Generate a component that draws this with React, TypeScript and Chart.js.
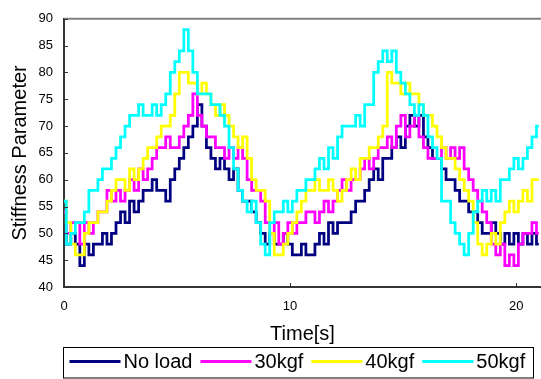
import React, { useEffect, useRef } from "react";
import { Chart, registerables } from "chart.js";

Chart.register(...registerables);

// ---- data ----
const SAMPLE_STEP = 0.2; // seconds between samples
const seriesNames = ["No load", "30kgf", "40kgf", "50kgf"];
const seriesColors = ["#000080", "#FF00FF", "#FFFF00", "#00FFFF"];
const xTickValues = [0, 10, 20];
const yTickValues = [40, 45, 50, 55, 60, 65, 70, 75, 80, 85, 90];

const noLoad = [
  50, 48, 50, 48, 44, 48, 46, 48, 48, 50,
  48, 50, 52, 54, 52, 56, 54, 56, 58, 58,
  60, 58, 58, 56, 60, 62, 64, 66, 68, 70,
  74, 70, 66, 64, 62, 64, 62, 60, 62, 58,
  56, 56, 54, 52, 50, 48, 50, 48, 48, 50,
  48, 46, 46, 48, 46, 46, 48, 50, 48, 52,
  50, 52, 52, 52, 54, 56, 56, 58, 60, 62,
  60, 64, 64, 66, 68, 66, 70, 72, 70, 72,
  68, 66, 64, 64, 62, 60, 60, 58, 56, 56,
  54, 54, 52, 50, 50, 52, 50, 48, 50, 48,
  50, 48, 50, 48, 50, 48,
];

const load30 = [
  54, 50, 52, 52, 48, 52, 50, 52, 54, 54,
  58, 56, 58, 56, 58, 60, 58, 62, 60, 62,
  64, 66, 66, 68, 66, 66, 68, 70, 72, 76,
  72, 70, 68, 68, 66, 66, 64, 66, 64, 66,
  64, 60, 58, 58, 56, 52, 50, 52, 48, 50,
  52, 50, 52, 52, 54, 54, 52, 54, 56, 54,
  56, 58, 60, 58, 60, 60, 62, 64, 62, 64,
  66, 66, 68, 66, 70, 72, 68, 70, 72, 68,
  66, 64, 64, 64, 66, 64, 66, 64, 66, 62,
  60, 58, 56, 54, 52, 48, 46, 48, 44, 46,
  44, 48, 50, 50, 52, 50,
];

const load40 = [
  56, 52, 48, 46, 46, 50, 52, 52, 54, 54,
  56, 58, 60, 60, 58, 62, 60, 62, 64, 66,
  66, 68, 70, 70, 72, 76, 80, 80, 78, 78,
  76, 78, 76, 74, 72, 74, 72, 70, 68, 66,
  68, 64, 60, 58, 58, 56, 50, 46, 46, 48,
  50, 52, 54, 56, 58, 58, 60, 58, 58, 60,
  58, 56, 58, 60, 62, 60, 64, 64, 66, 66,
  68, 70, 80, 78, 78, 76, 78, 76, 76, 74,
  72, 72, 70, 68, 66, 64, 64, 62, 60, 58,
  56, 52, 48, 46, 48, 50, 48, 52, 54, 56,
  54, 56, 58, 56, 60, 60,
];

const load50 = [
  56, 48, 50, 52, 52, 54, 58, 58, 60, 62,
  62, 64, 66, 68, 70, 72, 72, 74, 72, 72,
  74, 72, 74, 76, 80, 82, 84, 88, 84, 80,
  76, 76, 76, 74, 74, 72, 70, 66, 62, 58,
  56, 54, 56, 52, 48, 46, 52, 54, 54, 56,
  54, 56, 58, 58, 60, 60, 62, 64, 62, 66,
  64, 68, 70, 70, 70, 72, 70, 74, 74, 80,
  82, 84, 82, 84, 80, 78, 76, 74, 72, 74,
  72, 68, 66, 64, 56, 56, 52, 50, 48, 46,
  50, 54, 56, 58, 56, 58, 56, 60, 60, 62,
  64, 62, 64, 66, 68, 70,
];

const seriesValues = [noLoad, load30, load40, load50];

const FONT = "Arial, 'Liberation Sans', sans-serif";

const toPoints = (vals: number[]) =>
  vals.map((v, i) => ({ x: Math.round(i * SAMPLE_STEP * 10) / 10, y: v }));

const decorPlugin = {
  id: "decor",
  beforeDatasetsDraw(chart: any) {
    const { ctx, chartArea: a } = chart;
    ctx.save();
    ctx.strokeStyle = "#808080";
    ctx.lineWidth = 2;
    ctx.beginPath();
    ctx.moveTo(a.left, a.top);
    ctx.lineTo(a.right, a.top);
    ctx.stroke();
    ctx.restore();
  },
  afterDraw(chart: any) {
    const { ctx, chartArea: a, scales } = chart;
    ctx.save();
    // inner tick marks
    ctx.strokeStyle = "#333333";
    ctx.lineWidth = 1;
    yTickValues.forEach((v) => {
      const y = Math.round(scales.y.getPixelForValue(v)) + 0.5;
      ctx.beginPath();
      ctx.moveTo(a.left, y);
      ctx.lineTo(a.left + 4, y);
      ctx.stroke();
    });
    xTickValues.forEach((v) => {
      const x = Math.round(scales.x.getPixelForValue(v)) + 0.5;
      ctx.beginPath();
      ctx.moveTo(x, a.bottom);
      ctx.lineTo(x, a.bottom - 4);
      ctx.stroke();
    });

    // legend box
    const boxLeft = a.left - 0.5;
    const boxTop = scales.x.bottom + 1.5;
    const boxW = 470;
    const boxH = chart.height - boxTop - 1;
    ctx.strokeStyle = "#000000";
    ctx.lineWidth = 1;
    ctx.strokeRect(boxLeft, boxTop, boxW, boxH);

    const cy = boxTop + 14;
    ctx.font = `20px ${FONT}`;
    ctx.textBaseline = "middle";
    ctx.textAlign = "left";
    let x = boxLeft + 6;
    chart.data.datasets.forEach((ds: any) => {
      ctx.strokeStyle = ds.borderColor;
      ctx.lineWidth = 3;
      ctx.beginPath();
      ctx.moveTo(x, cy);
      ctx.lineTo(x + 51, cy);
      ctx.stroke();
      x += 54;
      ctx.fillStyle = "#000000";
      ctx.fillText(ds.label, x, cy + 1);
      x += ctx.measureText(ds.label).width + 8;
    });
    ctx.restore();
  },
};

export default function App() {
  const canvasRef = useRef<HTMLCanvasElement | null>(null);

  useEffect(() => {
    const canvas = canvasRef.current;
    if (!canvas) return;
    const chart = new Chart(canvas, {
      type: "line",
      data: {
        datasets: seriesValues.map((vals, i) => ({
          label: seriesNames[i],
          data: toPoints(vals),
          borderColor: seriesColors[i],
          backgroundColor: seriesColors[i],
          borderWidth: 2.75,
          pointRadius: 0,
          stepped: "middle" as const,
          fill: false,
          order: seriesValues.length - i,
        })),
      },
      options: {
        animation: false,
        responsive: false,
        maintainAspectRatio: false,
        parsing: false as any,
        layout: { padding: { top: 14, right: 0, bottom: 33, left: 0 } },
        plugins: {
          legend: { display: false },
          tooltip: { enabled: false },
        },
        scales: {
          x: {
            type: "linear",
            min: 0,
            max: 21.1,
            afterBuildTicks: (axis: any) => {
              axis.ticks = xTickValues.map((v) => ({ value: v }));
            },
            afterFit: (axis: any) => {
              axis.height = 59;
            },
            grid: { display: false, drawTicks: false },
            border: { display: true, color: "#333333", width: 2 },
            ticks: {
              autoSkip: false,
              padding: 12,
              maxRotation: 0,
              minRotation: 0,
              color: "#000000",
              font: { family: FONT, size: 13 },
              callback: (v: any) => String(v),
            },
            title: {
              display: true,
              text: "Time[s]",
              color: "#000000",
              font: { family: FONT, size: 20 },
              padding: { top: 7, bottom: 0 },
            },
          },
          y: {
            type: "linear",
            min: 40,
            max: 90,
            afterBuildTicks: (axis: any) => {
              axis.ticks = yTickValues.map((v) => ({ value: v }));
            },
            afterFit: (axis: any) => {
              axis.width = 64;
            },
            grid: { display: false, drawTicks: false },
            border: { display: true, color: "#333333", width: 2 },
            ticks: {
              autoSkip: false,
              padding: 11,
              color: "#000000",
              font: { family: FONT, size: 13 },
              callback: (v: any) => String(v),
            },
            title: {
              display: true,
              text: "Stiffness Parameter",
              color: "#000000",
              font: { family: FONT, size: 20 },
              padding: { top: 8, bottom: 0 },
            },
          },
        },
      },
      plugins: [decorPlugin],
    });
    return () => chart.destroy();
  }, []);

  return (
    <div style={{ position: "fixed", left: 0, top: 0, width: 541, height: 379, background: "#fff", overflow: "hidden" }}>
      <canvas ref={canvasRef} width={541} height={379} style={{ display: "block", width: 541, height: 379 }} />
    </div>
  );
}
